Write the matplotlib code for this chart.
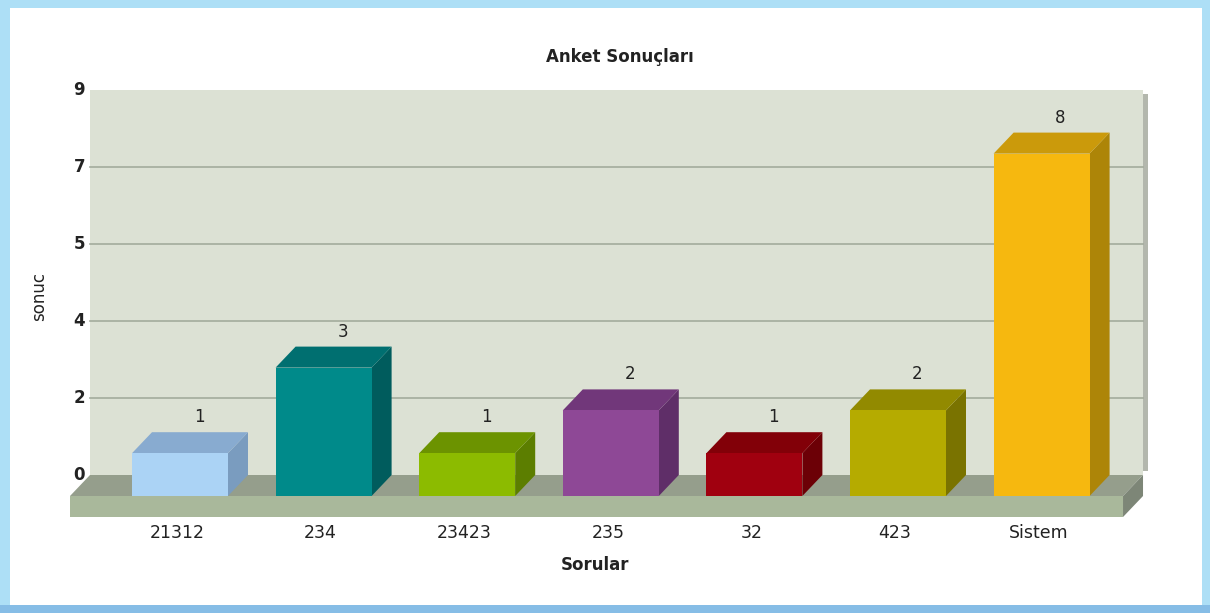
import matplotlib
matplotlib.use("Agg")
import matplotlib.pyplot as plt
from matplotlib.patches import Polygon, Rectangle

# ---- data ----
categories = ["21312", "234", "23423", "235", "32", "423", "Sistem"]
values = [1, 3, 1, 2, 1, 2, 8]
tick_values = [0, 1.8, 3.6, 5.4, 7.2, 9]
tick_labels = ["0", "2", "4", "5", "7", "9"]
front_colors = ["#abd3f5", "#008a8a", "#8cbb00", "#8e4896", "#a0000f", "#b5ab00", "#f6b80f"]
top_colors = ["#88abd0", "#006f70", "#6c9300", "#71377a", "#820008", "#928a00", "#cb9a0b"]
side_colors = ["#7a9cbf", "#005c5d", "#5c7e00", "#5f2e68", "#6c0006", "#7a7300", "#ad8508"]
title = "Anket Sonuçları"
xlabel = "Sorular"
ylabel = "sonuc"

W, H = 1210, 613
fig = plt.figure(figsize=(W / 100, H / 100), dpi=100)
fig.patch.set_facecolor("#addff6")
# frame and white panel
bg = fig.add_axes([0, 0, 1, 1])
bg.set_xlim(0, W)
bg.set_ylim(H, 0)
bg.axis("off")
bg.set_zorder(0)
bg.add_patch(Rectangle((0, 605), W, 8, facecolor="#86bde6", edgecolor="none"))
bg.add_patch(Rectangle((10, 8), 1192, 597, facecolor="white", edgecolor="none"))

ax = fig.add_axes([0, 0, 1, 1])
ax.set_zorder(1)
ax.set_facecolor("none")
ax.axis("off")
# pixel mapping: category spacing 143.6 px, value unit 42.8 px
sx, sy = 143.6, 42.8
x0px, y0px = 180, 475
ax.set_xlim(-x0px / sx, (W - x0px) / sx)
ax.set_ylim((y0px - H) / sy, y0px / sy)

dx = 20 / sx      # depth offset in x
dy = 21 / sy      # depth offset in y
bw = 96 / sx      # bar width
fh = 21 / sy      # floor thickness
n = len(categories)
xl = -0.5 - 0.266
xr = (n - 1) + 0.5 + 0.067
ymax = tick_values[-1]
txt = "#222222"

# back wall
ax.add_patch(Rectangle((xl + dx, 0), xr - xl, ymax, facecolor="#dce1d4", edgecolor="none", zorder=1))
# shadow on right of wall
ax.add_patch(Rectangle((xr + dx, 0.1), 5 / sx, ymax - 0.2, facecolor="#b3b7ad", edgecolor="none", zorder=1))
# gridlines
for t in tick_values[1:-1]:
    ax.plot([xl + dx, xr + dx], [t, t], color="#a3ab9c", lw=1.2, zorder=2)
# y tick labels
for t, lab in zip(tick_values, tick_labels):
    ax.text(xl + dx - 5 / sx, t, lab, ha="right", va="center", fontsize=12,
            fontweight="bold", color=txt, zorder=5)

# floor
ax.add_patch(Polygon([(xl, -dy), (xr, -dy), (xr + dx, 0), (xl + dx, 0)], closed=True,
                     facecolor="#959e8c", edgecolor="none", zorder=3))
ax.add_patch(Rectangle((xl, -dy - fh), xr - xl, fh, facecolor="#a9b89b", edgecolor="none", zorder=3))
ax.add_patch(Polygon([(xr, -dy), (xr + dx, 0), (xr + dx, -fh), (xr, -dy - fh)], closed=True,
                     facecolor="#7d8677", edgecolor="none", zorder=3))

# bars
for i, (v, fc, tc, sc) in enumerate(zip(values, front_colors, top_colors, side_colors)):
    l, r = i - bw / 2, i + bw / 2
    ax.add_patch(Polygon([(r, -dy), (r + dx, 0), (r + dx, v), (r, v - dy)], closed=True,
                         facecolor=sc, edgecolor="none", zorder=4))
    ax.add_patch(Polygon([(l, v - dy), (r, v - dy), (r + dx, v), (l + dx, v)], closed=True,
                         facecolor=tc, edgecolor="none", zorder=4))
    ax.add_patch(Rectangle((l, -dy), bw, v, facecolor=fc, edgecolor="none", zorder=4))
    ax.text(i + dx - 1 / sx, v + 15 / sy, str(v), ha="center", va="center", fontsize=12,
            color=txt, zorder=5)
    ax.text(i - 3 / sx, -dy - fh - 16 / sy, categories[i], ha="center", va="center",
            fontsize=12.5, color=txt, zorder=5)

# axis titles and chart title
ax.text(2.89, -dy - fh - 48 / sy, xlabel, ha="center", va="center",
        fontsize=12, fontweight="bold", color=txt)
ax.text(xl - 31 / sx, 4.16, ylabel, ha="center", va="center", rotation=90,
        fontsize=12, color=txt)
ax.text(3.06, ymax + 33 / sy, title, ha="center", va="center",
        fontsize=12, fontweight="bold", color=txt)

fig.savefig("out.png", dpi=100, facecolor=fig.get_facecolor())
